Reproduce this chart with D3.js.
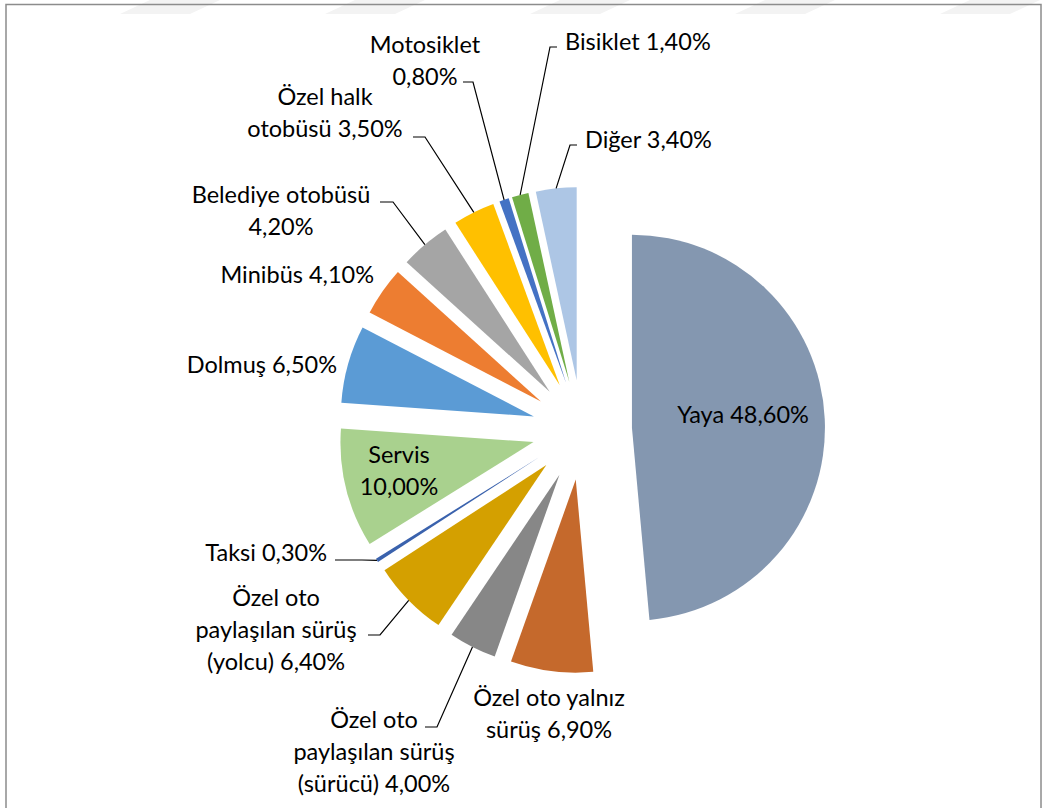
<!DOCTYPE html>
<html>
<head>
<meta charset="utf-8">
<script src="https://cdn.jsdelivr.net/npm/d3@7/dist/d3.min.js"></script>
<style>
  html, body { margin: 0; padding: 0; background: #fff; }
  svg { display: block; }
  .lbl { font-family: Lato, "Open Sans", sans-serif; font-size: 23.5px; fill: #000; }
</style>
</head>
<body>
<div id="chart"></div>
<script>
// data (clockwise from 12 o'clock)
const categories = ['Yaya', 'Özel oto yalnız sürüş', 'Özel oto paylaşılan sürüş (sürücü)',
    'Özel oto paylaşılan sürüş (yolcu)', 'Taksi', 'Servis', 'Dolmuş', 'Minibüs',
    'Belediye otobüsü', 'Özel halk otobüsü', 'Motosiklet', 'Bisiklet', 'Diğer'];
const values = [48.6, 6.9, 4.0, 6.4, 0.3, 10.0, 6.5, 4.1, 4.2, 3.5, 0.8, 1.4, 3.4];
const colors = ['#8497b0', '#c5692c', '#878787', '#d4a000', '#3a62ad', '#a9d18e', '#5b9bd5',
    '#ed7d31', '#a5a5a5', '#ffc000', '#4472c4', '#70ad47', '#adc6e5'];
// how each data label breaks into lines; {v} is the percentage
const labelLines = [
    ['Yaya {v}'],
    ['Özel oto yalnız', 'sürüş {v}'],
    ['Özel oto', 'paylaşılan sürüş', '(sürücü) {v}'],
    ['Özel oto', 'paylaşılan sürüş', '(yolcu) {v}'],
    ['Taksi {v}'],
    ['Servis', '{v}'],
    ['Dolmuş {v}'],
    ['Minibüs {v}'],
    ['Belediye otobüsü', '{v}'],
    ['Özel halk', 'otobüsü {v}'],
    ['Motosiklet', '{v}'],
    ['Bisiklet {v}'],
    ['Diğer {v}']
];

// layout
const W = 1046, H = 808;
const cx = 582, cy = 430, R = 193, explode = 50;
const lineH = 32;
// label placement: x/y = centre of first line, a = text-anchor, lead = [x1, x2, y] elbow of leader line
const labelPos = [
    { x: 743, y: 415, a: 'middle' },
    { x: 549, y: 698, a: 'middle' },
    { x: 374, y: 720, a: 'middle', lead: [425, 437, 727] },
    { x: 276, y: 598, a: 'middle', lead: [368, 380, 635] },
    { x: 327, y: 553, a: 'end', lead: [335, 362, 560] },
    { x: 399, y: 455, a: 'middle' },
    { x: 337, y: 365, a: 'end' },
    { x: 374, y: 275, a: 'end' },
    { x: 281, y: 195, a: 'middle', lead: [380, 393, 202] },
    { x: 325, y: 97, a: 'middle', lead: [413, 425, 137] },
    { x: 425, y: 45, a: 'middle', lead: [463, 473, 82] },
    { x: 565, y: 42, a: 'start', lead: [557, 550, 47] },
    { x: 585, y: 140, a: 'start', lead: [577, 570, 145] }
];

const fmt = v => v.toFixed(2).replace('.', ',') + '%';

const svg = d3.select('#chart').append('svg')
    .attr('width', W)
    .attr('height', H);

// faint watermark stripes at the very top
[150, 355, 560, 765, 970].forEach(x0 => {
    svg.append('polygon')
        .attr('points', `${x0},0 ${x0 + 70},0 ${x0 + 40},14 ${x0 - 30},14`)
        .attr('fill', '#f3f3f3');
});

// chart border
svg.append('rect')
    .attr('x', 6).attr('y', 4.5)
    .attr('width', 1035).attr('height', H + 20)
    .attr('fill', 'none')
    .attr('stroke', '#8c8c8c')
    .attr('stroke-width', 1.5);

const pie = d3.pie().sort(null).value(d => d)
    .startAngle(0).endAngle(2 * Math.PI);
const arcs = pie(values);

const arc = d3.arc().innerRadius(0).outerRadius(R);

const offset = d => {
    const m = (d.startAngle + d.endAngle) / 2;
    return [explode * Math.sin(m), -explode * Math.cos(m)];
};

const g = svg.append('g').attr('transform', `translate(${cx},${cy})`);

g.selectAll('path.slice')
    .data(arcs)
    .enter()
    .append('path')
    .attr('class', 'slice')
    .attr('d', arc)
    .attr('fill', (d, i) => colors[i])
    .attr('transform', d => `translate(${offset(d)})`);

// leader lines: from label elbow to the outer edge middle of the slice
arcs.forEach((d, i) => {
    const lp = labelPos[i];
    if (!lp.lead) return;
    const m = (d.startAngle + d.endAngle) / 2;
    const [ox, oy] = offset(d);
    const ex = cx + ox + R * Math.sin(m);
    const ey = cy + oy - R * Math.cos(m);
    const [x1, x2, y] = lp.lead;
    svg.append('polyline')
        .attr('points', `${x1},${y} ${x2},${y} ${ex},${ey}`)
        .attr('fill', 'none')
        .attr('stroke', '#000')
        .attr('stroke-width', 1.2);
});

// data labels
arcs.forEach((d, i) => {
    const lp = labelPos[i];
    const t = svg.append('text')
        .attr('class', 'lbl')
        .attr('text-anchor', lp.a);
    labelLines[i].forEach((ln, k) => {
        t.append('tspan')
            .attr('x', lp.x)
            .attr('y', lp.y + k * lineH + 8)
            .text(ln.replace('{v}', fmt(values[i])));
    });
});
</script>
</body>
</html>
